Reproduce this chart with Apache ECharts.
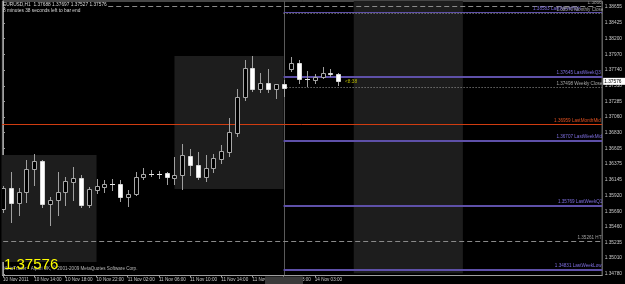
<!DOCTYPE html>
<html><head><meta charset="utf-8">
<script src="https://cdn.jsdelivr.net/npm/echarts@6/dist/echarts.min.js"></script>
<style>html,body{margin:0;padding:0;background:#000;}#c{width:625px;height:284px;}</style>
</head><body><div id="c"></div>
<script>
// ---------------- data ----------------
const symbol = 'EURUSD,H1';
const timerText = '8 minutes 38 seconds left to bar end';
const timerShort = '<8:38';
const copyright = 'MetaTrader - Alpari UK, \u00a9 2001-2009 MetaQuotes Software Corp.';

const timeLabelBars = [0, 4, 8, 12, 16, 20, 24, 28, 32, 36, 40];
const timeLabels = ['10 Nov 2011', '10 Nov 14:00', '10 Nov 18:00', '10 Nov 22:00', '11 Nov 02:00',
  '11 Nov 06:00', '11 Nov 10:00', '11 Nov 14:00', '11 Nov 18:00', '13 Nov 23:00', '14 Nov 03:00'];

const opens = [1.35723, 1.36024, 1.35806, 1.35966, 1.36304, 1.36416, 1.35792, 1.35854, 1.35966, 1.36115,
  1.36178, 1.35781, 1.35999, 1.36047, 1.36091, 1.36082, 1.35893, 1.35941, 1.36188, 1.36227,
  1.36231, 1.36241, 1.36178, 1.36217, 1.36493, 1.36362, 1.36192, 1.36314, 1.36449, 1.36555,
  1.36831, 1.37345, 1.37765, 1.37461, 1.37548, 1.37469, 1.37542, 1.37751, 1.37838, 1.37606,
  1.37596, 1.37643, 1.37693, 1.37688];
const highs = [1.36057, 1.36265, 1.36028, 1.36435, 1.36517, 1.36435, 1.35902, 1.36265, 1.36192, 1.36329,
  1.36217, 1.36047, 1.36154, 1.36144, 1.36154, 1.36144, 1.35999, 1.36256, 1.36323, 1.36289,
  1.36279, 1.36265, 1.36471, 1.36667, 1.36594, 1.36546, 1.36507, 1.36522, 1.36652, 1.37040,
  1.37461, 1.37886, 1.37944, 1.37702, 1.37755, 1.37535, 1.37596, 1.37925, 1.37886, 1.37719,
  1.37683, 1.37780, 1.37751, 1.37697];
const lows = [1.35680, 1.35539, 1.35636, 1.35829, 1.36072, 1.35757, 1.35491, 1.35636, 1.35781, 1.35854,
  1.35757, 1.35757, 1.35951, 1.35975, 1.35999, 1.35840, 1.35771, 1.35927, 1.36159, 1.36202,
  1.36178, 1.36082, 1.36086, 1.36009, 1.36217, 1.36154, 1.36134, 1.36265, 1.36387, 1.36493,
  1.36783, 1.37305, 1.37443, 1.37426, 1.37426, 1.37339, 1.37363, 1.37730, 1.37548, 1.37509,
  1.37548, 1.37620, 1.37654, 1.37527];
const closes = [1.36028, 1.35806, 1.35966, 1.36304, 1.36416, 1.35792, 1.35854, 1.35966, 1.36125, 1.36178,
  1.35781, 1.36014, 1.36053, 1.36091, 1.36090, 1.35893, 1.35941, 1.36183, 1.36227, 1.36228,
  1.36236, 1.36188, 1.36212, 1.36503, 1.36358, 1.36192, 1.36314, 1.36459, 1.36565, 1.36837,
  1.37345, 1.37765, 1.37461, 1.37548, 1.37469, 1.37533, 1.37484, 1.37838, 1.37606, 1.37605,
  1.37643, 1.37702, 1.37688, 1.37576];

const priceTicks = [1.38655, 1.38425, 1.38200, 1.37970, 1.37740, 1.37510, 1.37285, 1.37060, 1.36830,
  1.36605, 1.36375, 1.36145, 1.35920, 1.35690, 1.35460, 1.35235, 1.35010, 1.34780];

const levelNames = ['HH', 'LastWeekHigh', 'Monthly Close', 'LastWeekQ3', 'Weekly Close', 'LastMonthMid',
  'LastWeekMid', 'LastWeekQ1', 'HT', 'LastWeekLow'];
const levelPrices = [1.38667, 1.38583, 1.38570, 1.37645, 1.37498, 1.36959, 1.36707, 1.35769, 1.35261, 1.34831];
const levelStartBars = [13.5, 36, 36, 36, 36, -1, 36, 36, -1, 36];
const levelLabelBars = [75, 68, 71, 71, 71, 70.7, 71, 71.2, 73.7, 70.8];

const sessionStartBars = [-2, 22, 45];
const sessionEndBars = [12, 36, 59];
const sessionHighs = [1.36507, 1.37944, 1.38800];
const sessionLows = [1.34954, 1.36014, 1.34790];

const weekStartBar = 36;

// ---------------- styles ----------------
const levelStyles = {
  'HH': {stroke: '#8a8a8a', width: 1, dash: [5, 3], text: '#a0a0a0'},
  'HT': {stroke: '#8a8a8a', width: 1, dash: [5, 3], text: '#a0a0a0'},
  'LastWeekHigh': {stroke: '#5e50a8', width: 1, dash: null, text: '#7e6ee0'},
  'Monthly Close': {stroke: '#9a9a9a', width: 1, dash: [1, 2], text: '#a8a8a8'},
  'Weekly Close': {stroke: '#9a9a9a', width: 1, dash: [1, 2], text: '#a8a8a8'},
  'LastWeekQ3': {stroke: '#5e50a8', width: 2, dash: null, text: '#7e6ee0'},
  'LastWeekMid': {stroke: '#5e50a8', width: 2, dash: null, text: '#7e6ee0'},
  'LastWeekQ1': {stroke: '#5e50a8', width: 2, dash: null, text: '#7e6ee0'},
  'LastWeekLow': {stroke: '#5e50a8', width: 2, dash: null, text: '#7e6ee0'},
  'LastMonthMid': {stroke: '#d03c10', width: 1, dash: null, text: '#e05020'}
};
const FONT = 'Liberation Sans';
const X_MIN = -0.0762, X_MAX = 76.87;
const Y_MIN = 1.34758, Y_MAX = 1.38742;

const candleData = opens.map((o, i) => [i, o, closes[i], lows[i], highs[i]]);
const last = opens.length - 1;

function renderCandle(params, api) {
  const i = api.value(0), o = api.value(1), c = api.value(2), l = api.value(3), h = api.value(4);
  const pO = api.coord([i, o]), pC = api.coord([i, c]), pL = api.coord([i, l]), pH = api.coord([i, h]);
  const cx = Math.round(pO[0]);
  const bull = c > o;
  const yTop = Math.round(Math.min(pO[1], pC[1]));
  const yBot = Math.round(Math.max(pO[1], pC[1]));
  const children = [{type: 'line', shape: {x1: cx + 0.5, y1: Math.round(pH[1]), x2: cx + 0.5, y2: Math.round(pL[1]) + 1},
    style: {stroke: '#a0a0a0', lineWidth: 1}}];
  if (yBot - yTop < 1) {
    children.push({type: 'line', shape: {x1: cx - 2, y1: yTop + 0.5, x2: cx + 3, y2: yTop + 0.5},
      style: {stroke: '#e8e8e8', lineWidth: 1}});
  } else {
    children.push({type: 'rect', shape: {x: cx - 1.5, y: yTop + 0.5, width: 4, height: yBot - yTop},
      style: {fill: bull ? '#000' : '#fff', stroke: bull ? '#a8a8a8' : '#d8d8d8', lineWidth: 1}});
  }
  return {type: 'group', children};
}

function renderSession(params, api) {
  const k = params.dataIndex;
  const p0 = api.coord([sessionStartBars[k], sessionHighs[k]]);
  const p1 = api.coord([sessionEndBars[k], sessionLows[k]]);
  return {type: 'rect', shape: {x: p0[0], y: p0[1], width: p1[0] - p0[0], height: p1[1] - p0[1]},
    style: {fill: '#1d1d1d'}};
}

function renderLevel(params, api) {
  const k = params.dataIndex;
  const name = levelNames[k], price = levelPrices[k], st = levelStyles[name];
  const p0 = api.coord([levelStartBars[k], price]);
  const p1 = api.coord([X_MAX, price]);
  const pt = api.coord([levelLabelBars[k], price]);
  const y = Math.round(p0[1]) + (st.width % 2 ? 0.5 : 0);
  return {type: 'group', children: [
    {type: 'line', shape: {x1: p0[0], y1: y, x2: p1[0], y2: y},
      style: {stroke: st.stroke, lineWidth: st.width, lineDash: st.dash}},
    {type: 'text', x: pt[0], y: y - st.width / 2 - 0.5,
      style: {text: price.toFixed(5) + ' ' + name, fill: st.text, font: '4.6px ' + FONT,
        align: 'left', verticalAlign: 'bottom'}}
  ]};
}

function renderSeparator(params, api) {
  const pTop = api.coord([weekStartBar, Y_MAX]);
  const pBot = api.coord([weekStartBar, Y_MIN]);
  const x = Math.round(pTop[0]) + 0.5;
  return {type: 'line', shape: {x1: x, y1: pTop[1], x2: x, y2: pBot[1]}, style: {stroke: '#5a5a5a', lineWidth: 1}};
}

function renderCurrent(params, api) {
  const pAxis = api.coord([X_MAX, closes[last]]);
  const pBar = api.coord([last + 0.88, closes[last]]);
  return {type: 'group', children: [
    {type: 'text', x: pBar[0], y: pBar[1],
      style: {text: timerShort, fill: '#b8b800', font: '4.8px ' + FONT, align: 'left', verticalAlign: 'middle'}},
    {type: 'text', x: pAxis[0] + 1, y: pAxis[1],
      style: {text: closes[last].toFixed(5), fill: '#000', font: '4.8px ' + FONT, align: 'left', verticalAlign: 'middle',
        backgroundColor: '#ffffff', padding: [1, 4, 1, 1]}}
  ]};
}

const chart = echarts.init(document.getElementById('c'), null, {renderer: 'canvas'});
const option = {
  backgroundColor: '#000',
  animation: false,
  grid: {left: 1, right: 18, top: 1, bottom: 8.5, show: true, borderColor: '#8c8c8c', borderWidth: 1, backgroundColor: '#000'},
  xAxis: {
    type: 'value', min: X_MIN, max: X_MAX,
    axisLine: {show: true, lineStyle: {color: '#a0a0a0'}},
    splitLine: {show: false},
    axisTick: {show: true, customValues: timeLabelBars, length: 2, lineStyle: {color: '#a0a0a0'}},
    axisLabel: {customValues: timeLabelBars, margin: 1.5, color: '#c8c8c8', fontSize: 4.6, fontFamily: FONT,
      align: 'left', formatter: v => timeLabels[timeLabelBars.indexOf(Math.round(v))] || ''}
  },
  yAxis: {
    type: 'value', position: 'right', min: Y_MIN, max: Y_MAX,
    axisLine: {show: true, lineStyle: {color: '#a0a0a0'}},
    splitLine: {show: false},
    axisTick: {show: true, customValues: priceTicks, length: 2, lineStyle: {color: '#a0a0a0'}},
    axisLabel: {customValues: priceTicks, margin: 2.5, color: '#c8c8c8', fontSize: 4.8, fontFamily: FONT,
      formatter: v => v.toFixed(5)}
  },
  series: [
    {type: 'custom', name: 'sessions', clip: true, z: 1, renderItem: renderSession,
      data: sessionStartBars.map((s, k) => [s, sessionHighs[k]]), silent: true},
    {type: 'custom', name: 'separator', clip: true, z: 2, renderItem: renderSeparator, data: [[weekStartBar, Y_MAX]], silent: true},
    {type: 'custom', name: 'levels', clip: true, z: 3, renderItem: renderLevel,
      data: levelPrices.map((p, k) => [levelStartBars[k], p]), silent: true},
    {type: 'custom', name: 'candles', clip: true, z: 4, renderItem: renderCandle,
      encode: {x: 0, y: [1, 2, 3, 4]}, data: candleData, silent: true},
    {type: 'custom', name: 'current', clip: false, z: 6, renderItem: renderCurrent, data: [[last, closes[last]]], silent: true}
  ],
  graphic: [
    {type: 'text', left: 3, top: 2.5, z: 10, style: {text: symbol + '  ' + [opens[last], highs[last], lows[last], closes[last]].map(v => v.toFixed(5)).join(' '),
      fill: '#d8d8d8', font: '4.8px ' + FONT}},
    {type: 'text', left: 3, top: 8.5, z: 10, style: {text: timerText, fill: '#d8d8d8', font: '4.8px ' + FONT}},
    {type: 'text', left: 3, top: 266, z: 9, style: {text: copyright, fill: '#b8b8b8', font: '4.6px ' + FONT}},
    {type: 'text', left: 4, top: 257.5, z: 10, style: {text: closes[last].toFixed(5), fill: '#ffff00', font: '15px ' + FONT}},
    {type: 'rect', left: 265, top: 276.5, z: 10, shape: {width: 38, height: 7.5}, style: {fill: '#3a3a3a'}}
  ]
};
chart.setOption(option);
</script>
</body></html>
